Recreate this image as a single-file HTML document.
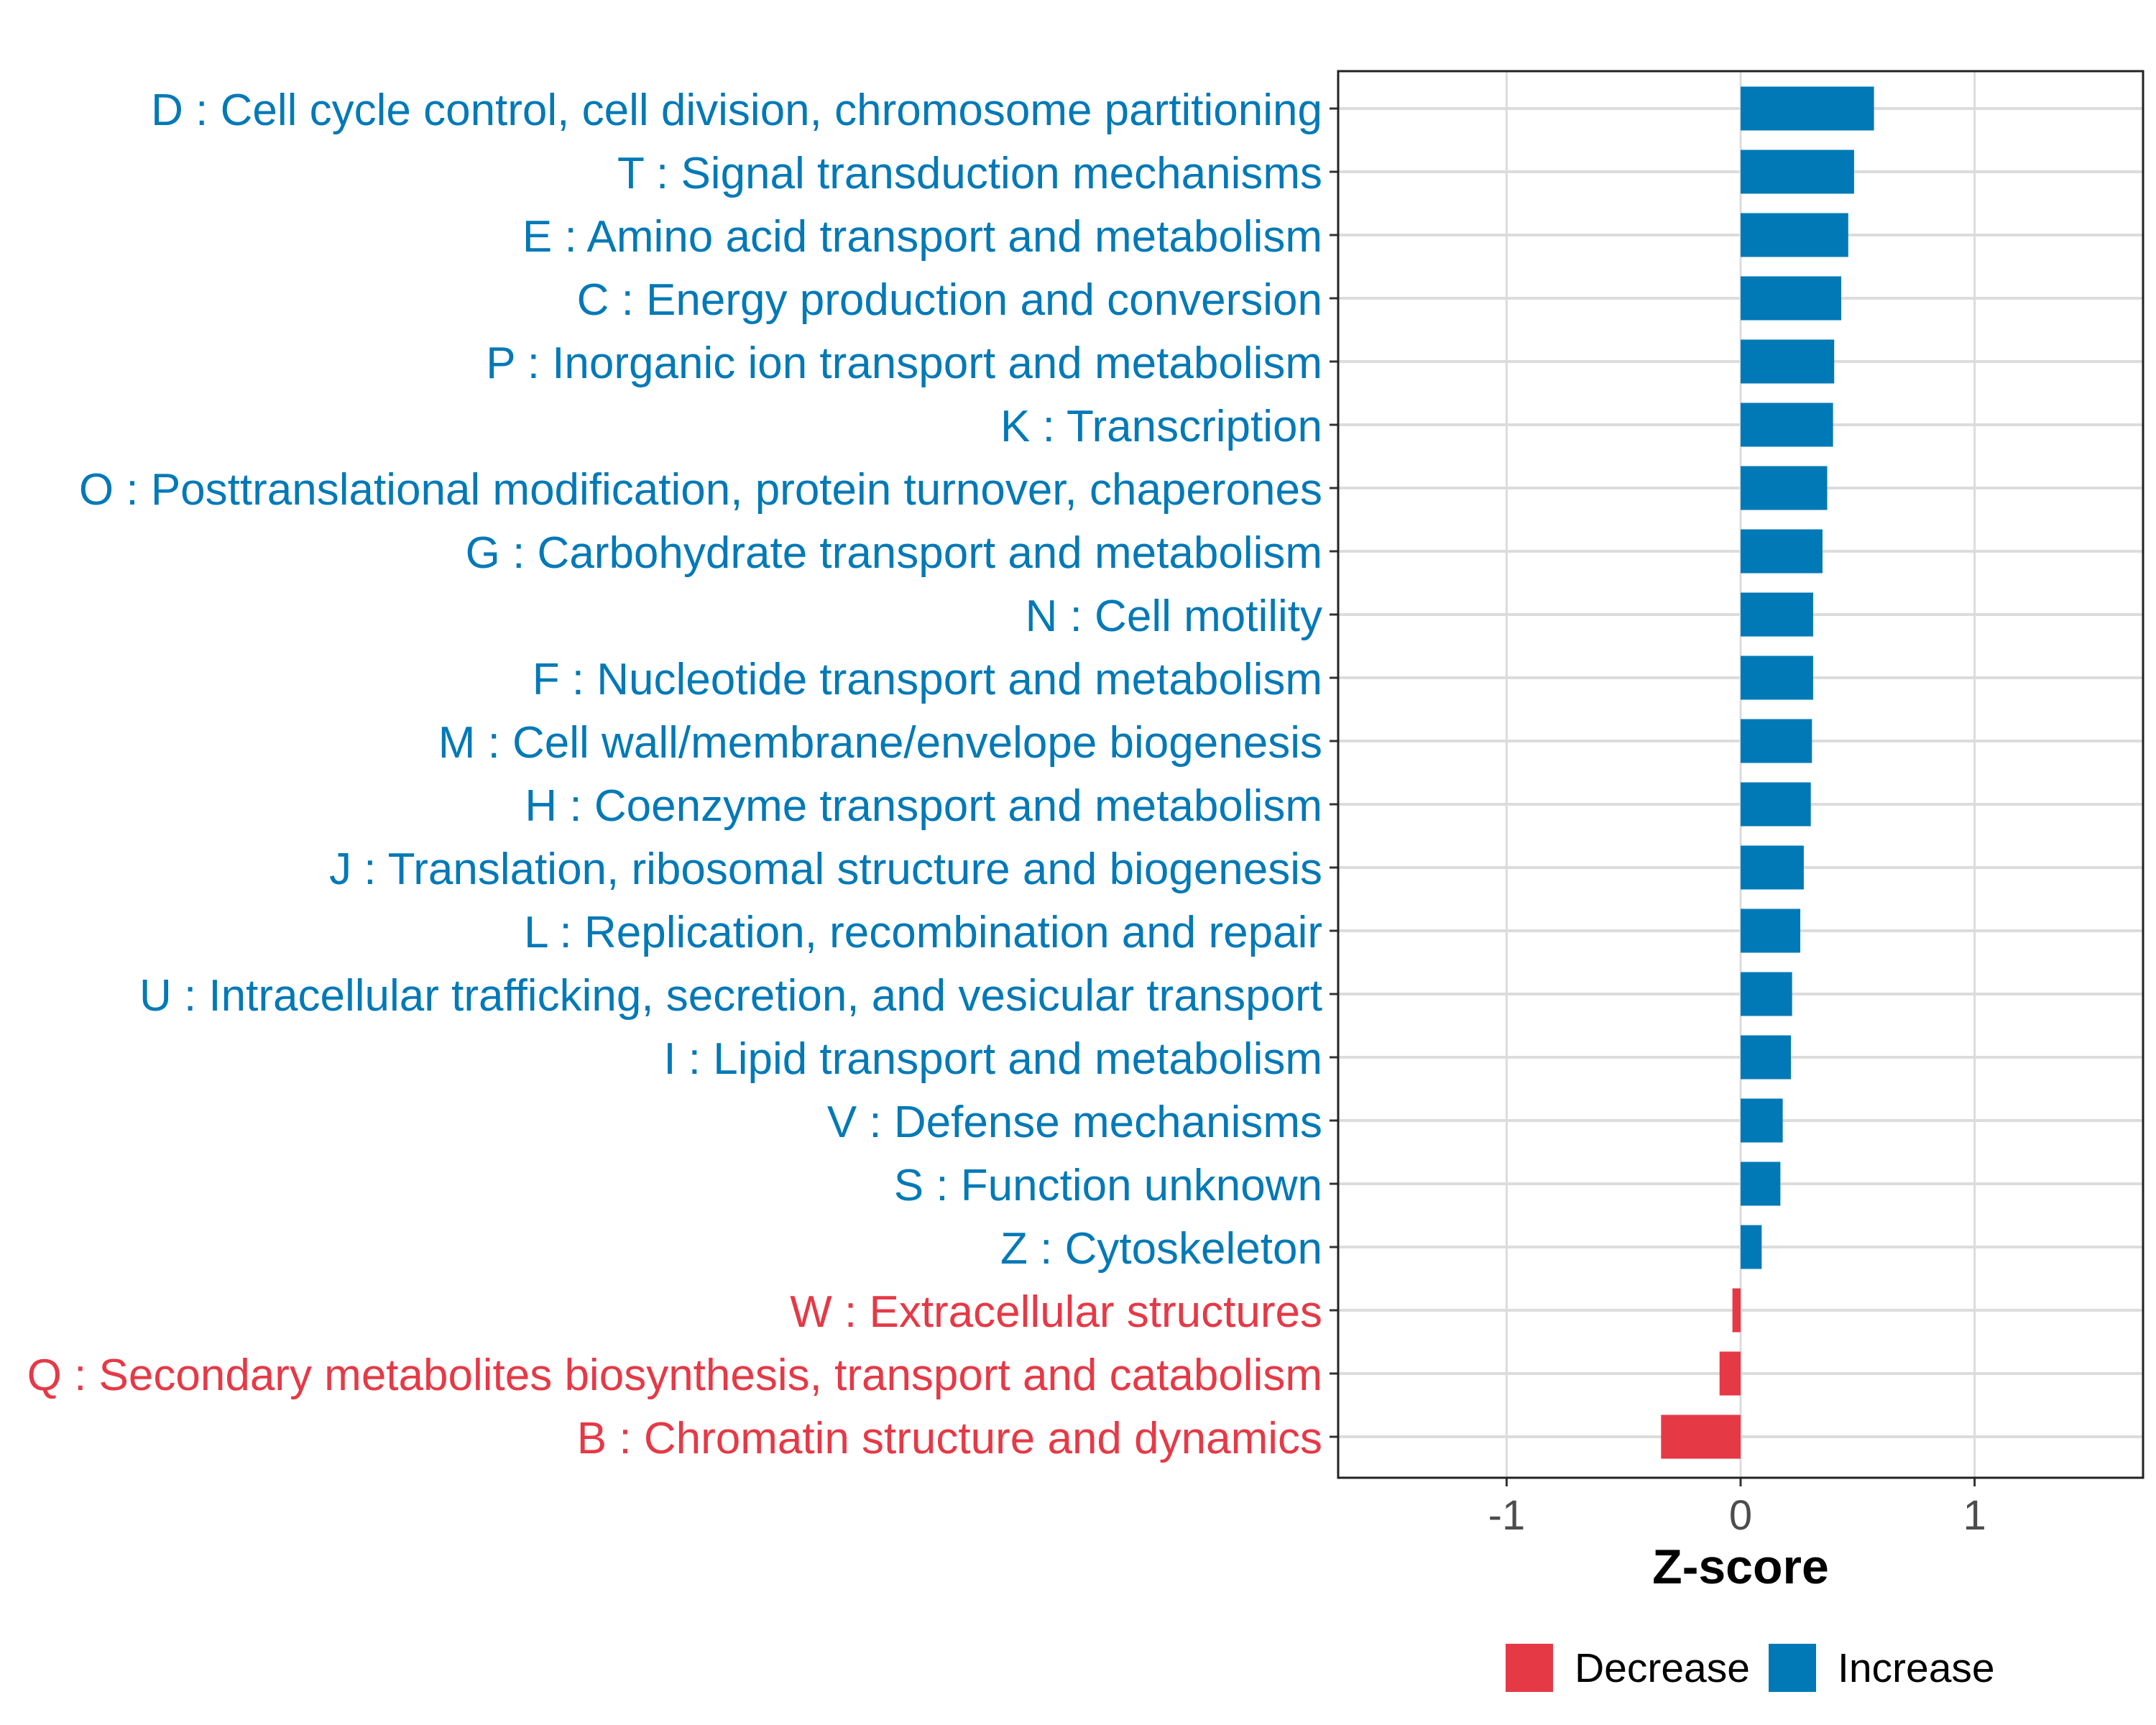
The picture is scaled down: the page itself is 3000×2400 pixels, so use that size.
<!DOCTYPE html>
<html><head><meta charset="utf-8"><style>
html,body{margin:0;padding:0;background:#fff;}
svg{display:block;font-family:"Liberation Sans",Arial,sans-serif;}
</style></head><body>
<svg id="chart" width="3000" height="2400" viewBox="0 0 3000 2400" xmlns="http://www.w3.org/2000/svg">
<rect width="3000" height="2400" fill="#fff"/>
<g id="grid"></g>
<g id="bars"></g>
<g id="ylabels"></g>
<g id="xaxis"></g>
<rect x="1862" y="99" width="1120" height="1957" fill="none" stroke="#222" stroke-width="3"/>
<text x="2422" y="2203" text-anchor="middle" font-size="68" font-weight="bold" fill="#000">Z-score</text>
<g>
<rect x="2095" y="2287" width="66" height="67" fill="#E63946"/>
<text x="2191" y="2340" font-size="57" fill="#000">Decrease</text>
<rect x="2461" y="2287" width="66" height="67" fill="#0279B7"/>
<text x="2557" y="2340" font-size="57" fill="#000">Increase</text>
</g>
</svg>
<script>
const categories = [
"D : Cell cycle control, cell division, chromosome partitioning",
"T : Signal transduction mechanisms",
"E : Amino acid transport and metabolism",
"C : Energy production and conversion",
"P : Inorganic ion transport and metabolism",
"K : Transcription",
"O : Posttranslational modification, protein turnover, chaperones",
"G : Carbohydrate transport and metabolism",
"N : Cell motility",
"F : Nucleotide transport and metabolism",
"M : Cell wall/membrane/envelope biogenesis",
"H : Coenzyme transport and metabolism",
"J : Translation, ribosomal structure and biogenesis",
"L : Replication, recombination and repair",
"U : Intracellular trafficking, secretion, and vesicular transport",
"I : Lipid transport and metabolism",
"V : Defense mechanisms",
"S : Function unknown",
"Z : Cytoskeleton",
"W : Extracellular structures",
"Q : Secondary metabolites biosynthesis, transport and catabolism",
"B : Chromatin structure and dynamics"
];
const zscores = [0.57,0.485,0.46,0.43,0.40,0.395,0.37,0.35,0.31,0.31,0.305,0.30,0.27,0.255,0.22,0.215,0.18,0.17,0.09,-0.035,-0.09,-0.34];
const xTicks = [-1,0,1];
const xTickLabels = ["-1","0","1"];

const NS="http://www.w3.org/2000/svg";
const X0=1862, X1=2982, XMIN=-1.72, XMAX=1.72;
const Y0=151, STEP=88, BAND=61;
function xScale(v){return X0+(v-XMIN)/(XMAX-XMIN)*(X1-X0);}
function yScale(i){return Y0+i*STEP;}
function mk(tag,attrs,parent){const e=document.createElementNS(NS,tag);for(const k in attrs)e.setAttribute(k,attrs[k]);parent.appendChild(e);return e;}
const grid=document.getElementById('grid'),bars=document.getElementById('bars'),yl=document.getElementById('ylabels'),xa=document.getElementById('xaxis');
const BLUE="#0279B7", RED="#E63946";
xTicks.forEach((t,i)=>{
  const x=xScale(t);
  const g=mk('line',{x1:x,x2:x,y1:99,y2:2056,stroke:'#dcdcdc','stroke-width':3},grid);
  
  
  const tk=mk('line',{x1:x,x2:x,y1:2056,y2:2068,stroke:'#333','stroke-width':3},xa);
  
  
  const tl=mk('text',{x:x,y:2128,'text-anchor':'middle','font-size':58,fill:'#4d4d4d'},xa);
  tl.textContent=xTickLabels[i];
  
  
});
categories.forEach((c,i)=>{
  const y=yScale(i), v=zscores[i], col=v>=0?BLUE:RED;
  const g=mk('line',{x1:X0,x2:X1,y1:y,y2:y,stroke:'#dcdcdc','stroke-width':4},grid);
  
  
  const xa0=xScale(0), xv=xScale(v);
  const r=mk('rect',{x:Math.min(xa0,xv),y:y-BAND/2,width:Math.abs(xv-xa0),height:BAND,fill:col},bars);
  
  
  const tk=mk('line',{x1:1850,x2:1862,y1:y,y2:y,stroke:'#333','stroke-width':3},yl);
  
  
  const t=mk('text',{x:1840,y:y+23,'text-anchor':'end','font-size':62,fill:col},yl);
  t.textContent=c;
  
  
});
</script>
</body></html>
